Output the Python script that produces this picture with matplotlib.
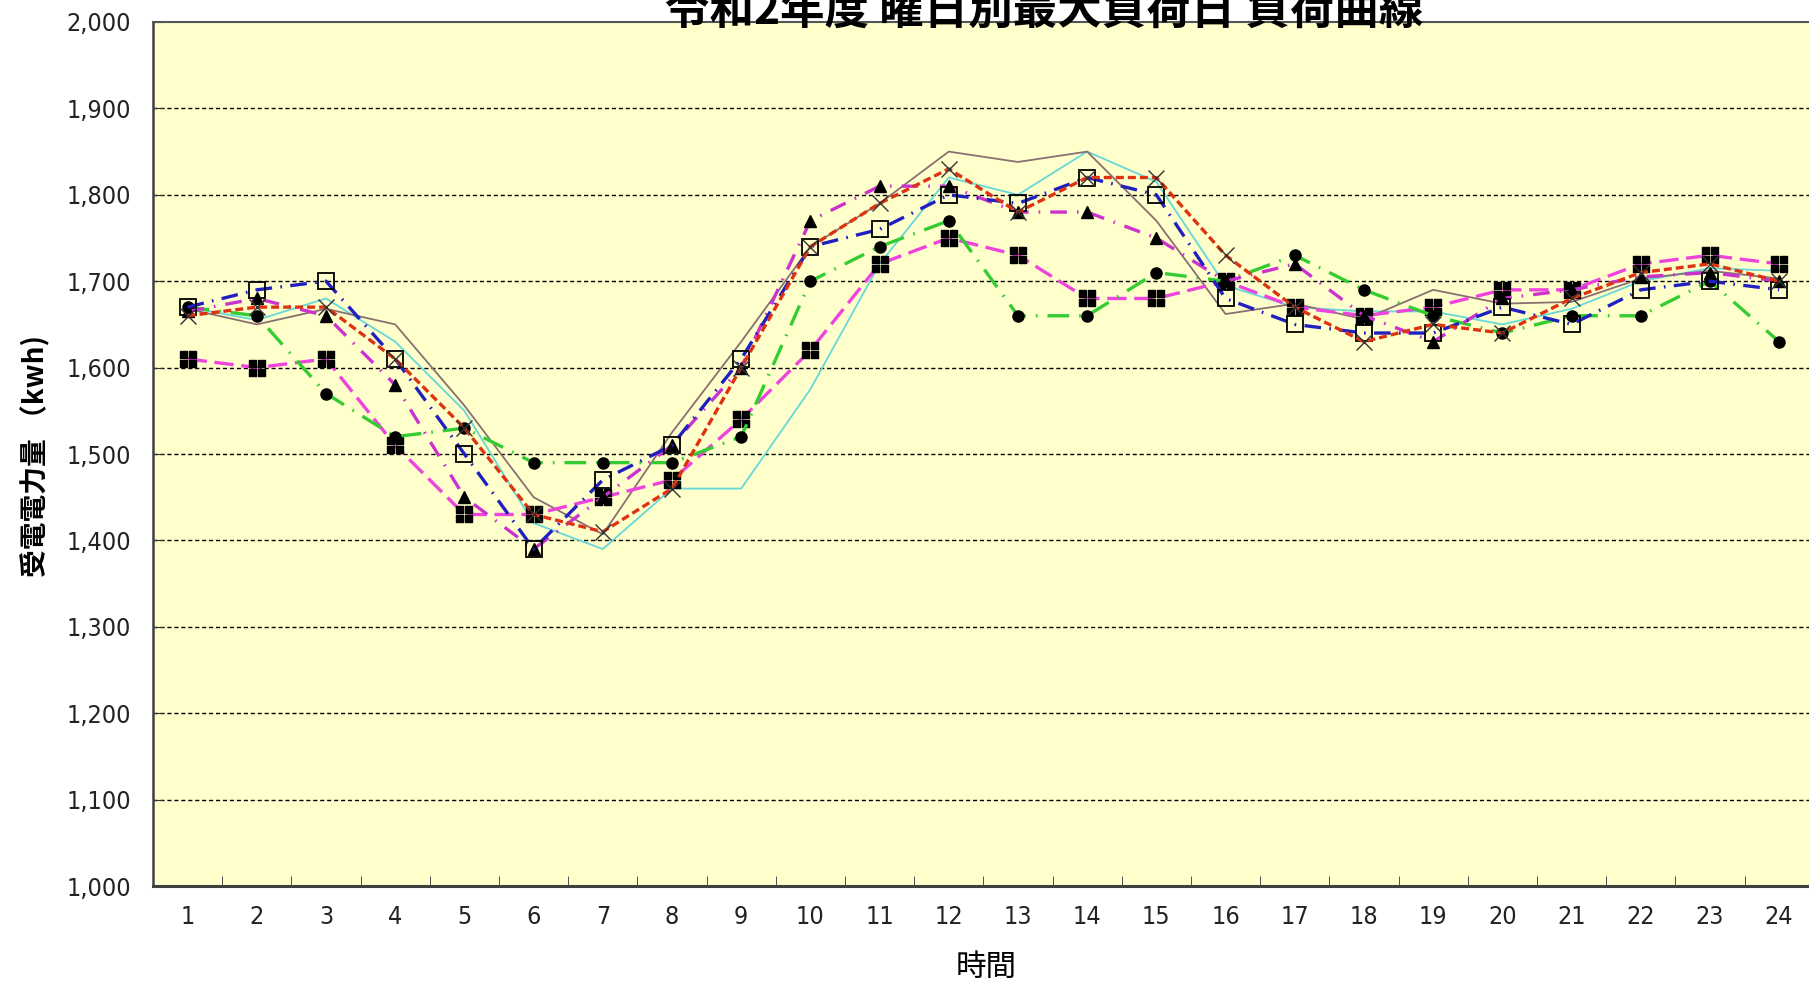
import matplotlib
matplotlib.use('Agg')
import matplotlib.pyplot as plt
from matplotlib.path import Path
from matplotlib.ticker import FuncFormatter, MultipleLocator

plt.rcParams['font.family'] = ['Noto Sans CJK JP', 'DejaVu Sans']

# ---- data ----
hours = list(range(1, 25))

s_square = [1670, 1690, 1700, 1610, 1500, 1390, 1470, 1510, 1610, 1740, 1760, 1800,
            1790, 1820, 1800, 1680, 1650, 1640, 1640, 1670, 1650, 1690, 1700, 1690]
s_cross = [1660, 1670, 1670, 1610, 1530, 1430, 1410, 1460, 1600, 1740, 1790, 1830,
           1780, 1820, 1820, 1730, 1670, 1630, 1650, 1640, 1680, 1710, 1720, 1700]
s_circle = [1670, 1660, 1570, 1520, 1530, 1490, 1490, 1490, 1520, 1700, 1740, 1770,
            1660, 1660, 1710, 1700, 1730, 1690, 1660, 1640, 1660, 1660, 1700, 1630]
s_block = [1610, 1600, 1610, 1510, 1430, 1430, 1450, 1470, 1540, 1620, 1720, 1750,
           1730, 1680, 1680, 1700, 1670, 1660, 1670, 1690, 1690, 1720, 1730, 1720]
s_triangle = [1665, 1680, 1660, 1580, 1450, 1390, 1450, 1510, 1600, 1770, 1810, 1810,
              1780, 1780, 1750, 1700, 1720, 1660, 1630, 1680, 1690, 1705, 1710, 1700]
s_cyan = [1670, 1655, 1680, 1630, 1550, 1420, 1390, 1460, 1460, 1575, 1720, 1820,
          1800, 1850, 1815, 1695, 1670, 1665, 1665, 1650, 1668, 1700, 1715, 1712]
s_gray = [1668, 1650, 1668, 1650, 1556, 1450, 1407, 1525, 1630, 1740, 1790, 1850,
          1838, 1850, 1770, 1662, 1674, 1656, 1690, 1674, 1676, 1703, 1712, 1703]

title = '令和2年度 曜日別最大負荷日 負荷曲線'
ylabel = '受電電力量 （kwh)'
xlabel = '時間'


def block_marker():
    # four small filled squares, like the excel marker
    verts = []
    codes = []
    h = 0.42
    for cx, cy in [(-0.5, -0.5), (0.5, -0.5), (-0.5, 0.5), (0.5, 0.5)]:
        verts += [(cx - h, cy - h), (cx + h, cy - h), (cx + h, cy + h), (cx - h, cy + h), (cx - h, cy - h)]
        codes += [Path.MOVETO, Path.LINETO, Path.LINETO, Path.LINETO, Path.CLOSEPOLY]
    return Path(verts, codes)


fig = plt.figure(figsize=(18.09, 9.86), dpi=100)
ax = fig.add_axes([0.0846, 0.1014, 0.918, 0.8763])
ax.set_facecolor('#FFFFCC')

# thin solid lines without markers
ax.plot(hours, s_cyan, color='#66D8D8', lw=1.3, zorder=3)
ax.plot(hours, s_gray, color='#8A6F70', lw=1.3, zorder=3)

ax.plot(hours, s_block, color='#EE44DD', lw=2.4, ls=(0, (5.8, 2.3)),
        marker=block_marker(), ms=12, mfc='black', mec='black', zorder=4)
ax.plot(hours, s_circle, color='#33CC33', lw=2.4, ls=(0, (6.5, 3, 0.5, 3)),
        marker='o', ms=8, mfc='black', mec='black', zorder=4)
ax.plot(hours, s_triangle, color='#CC33CC', lw=2.4, ls=(0, (5, 3, 0.5, 3)),
        marker='^', ms=8, mfc='black', mec='black', zorder=4)
ax.plot(hours, s_square, color='#2020C0', lw=2.4, ls=(0, (5, 2.5, 0.5, 2.5)),
        marker='s', ms=11, mfc='none', mec='black', mew=1.3, zorder=5)
ax.plot(hours, s_cross, color='#DD3311', lw=2.4, ls=(0, (2.4, 1.2)),
        marker='x', ms=11, mec='#333333', mew=1.0, zorder=5)

ax.set_xlim(0.5, 24.5)
ax.set_ylim(1000, 2000)

ax.set_xticks(hours)
ax.set_xticks([h + 0.5 for h in range(0, 25)], minor=True)
ax.yaxis.set_major_locator(MultipleLocator(100))
ax.yaxis.set_major_formatter(FuncFormatter(lambda v, p: '{:,.0f}'.format(v)))

for lab in ax.get_xticklabels() + ax.get_yticklabels():
    lab.set_family('DejaVu Sans')
    lab.set_stretch('condensed')
    lab.set_fontsize(18)
    lab.set_color('#222222')

ax.tick_params(axis='x', which='major', length=0, pad=14)
ax.tick_params(axis='x', which='minor', direction='in', length=7, color='#333333')
ax.tick_params(axis='y', which='major', direction='in', length=7, color='#333333', pad=16)

for v in range(1100, 2000, 100):
    ax.axhline(v, color='black', lw=1.0, ls=(0, (3, 2)), zorder=1)

ax.spines['left'].set_color('#404040')
ax.spines['left'].set_linewidth(1.8)
ax.spines['bottom'].set_color('#404040')
ax.spines['bottom'].set_linewidth(2.2)
ax.spines['top'].set_color('#555555')
ax.spines['top'].set_linewidth(1.5)
ax.spines['right'].set_visible(False)

fig.text(0.577, 1 - 24 / 986.0, title, ha='center', va='baseline',
         fontsize=32, fontweight='bold')
fig.text(0.0199, 0.5375, ylabel, ha='center', va='center', rotation=90,
         fontsize=20, fontweight='bold')
fig.text(0.545, 0.019, xlabel, ha='center', va='center', fontsize=22)

fig.savefig('out.png', dpi=100, facecolor='white')
